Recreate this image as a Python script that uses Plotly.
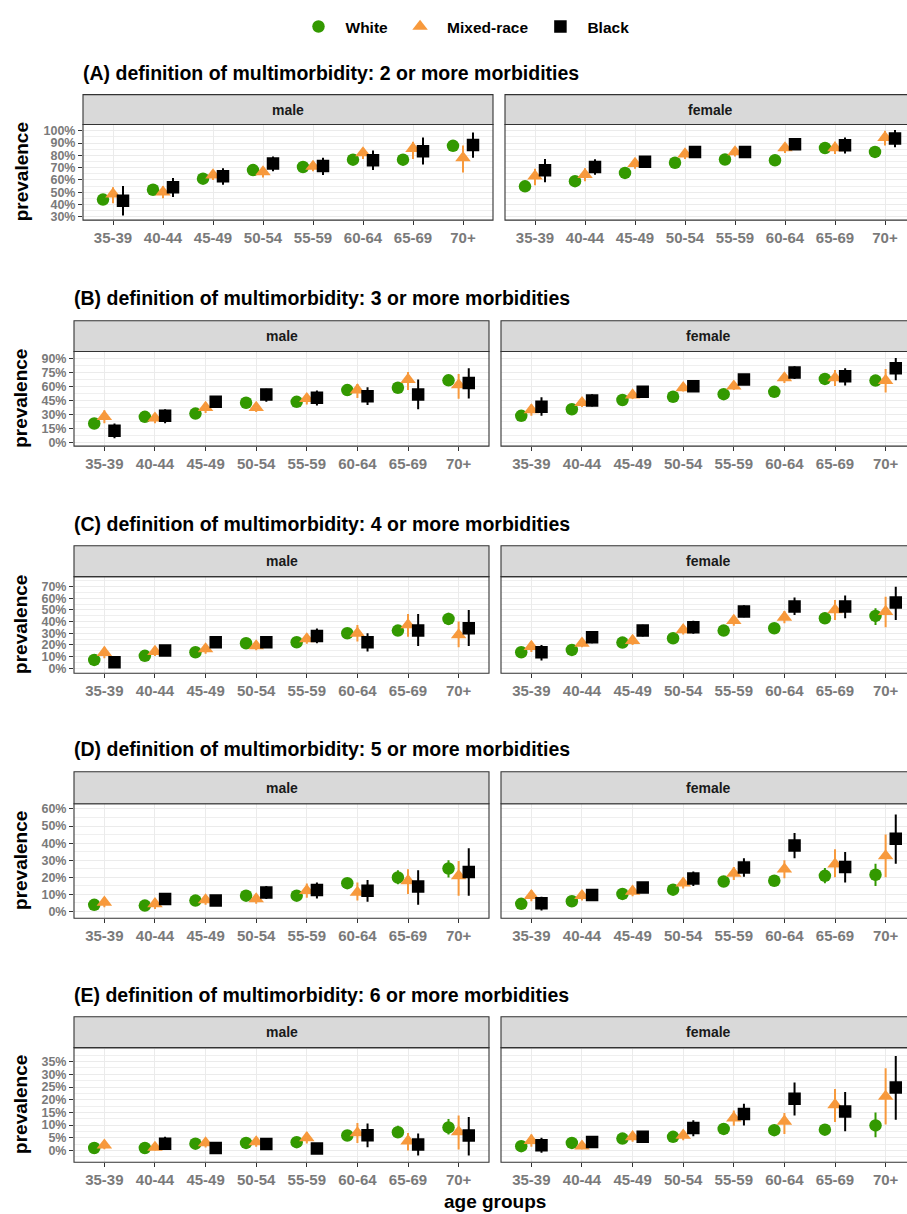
import plotly.graph_objects as go

AGE = ["35-39", "40-44", "45-49", "50-54", "55-59", "60-64", "65-69", "70+"]
RACES = ["White", "Mixed-race", "Black"]
DEFS = ["(A) definition of multimorbidity: 2 or more morbidities",
        "(B) definition of multimorbidity: 3 or more morbidities",
        "(C) definition of multimorbidity: 4 or more morbidities",
        "(D) definition of multimorbidity: 5 or more morbidities",
        "(E) definition of multimorbidity: 6 or more morbidities"]

# prevalence (%) estimates and 95% CI, one row per definition (A..E)
WHITE_MALE = [[44, 52, 61, 68, 70.5, 76.5, 76.5, 87.7],
              [20.8, 27.9, 31.4, 43, 44, 56.5, 59, 67],
              [7.1, 10.6, 13.7, 21.4, 22.3, 30, 32.3, 42.3],
              [3.9, 3.5, 6.4, 9.3, 9.3, 16.6, 19.9, 25.2],
              [1, 1, 2.7, 3, 3.3, 5.9, 7.2, 9.1]]
WHITE_MALE_LO = [[39.5, 50, 59, 66, 68.5, 74.5, 72, 85.5],
                 [18, 25.5, 29, 40.5, 41.5, 53.5, 55.5, 63],
                 [5.5, 9, 12, 19.5, 20.5, 27.5, 28.5, 37.1],
                 [3, 2.7, 5.3, 8, 8, 14, 16, 19.9],
                 [0.6, 0.6, 2.1, 2.4, 2.6, 4.8, 5, 6.3]]
WHITE_MALE_HI = [[48.5, 54, 63, 70, 72.5, 78.5, 80, 90],
                 [23.5, 30.5, 34, 45.5, 46.5, 59.5, 62.5, 71],
                 [8.7, 12.2, 15.5, 23.3, 24.2, 32.5, 36, 47.7],
                 [4.8, 4.3, 7.5, 10.6, 10.6, 19.5, 24.2, 30],
                 [1.4, 1.4, 3.3, 3.6, 4, 7, 9.8, 12.4]]

MIXED_MALE = [[48.5, 50, 64, 66.5, 71, 82, 85.5, 78],
              [28, 26.5, 37.8, 37.8, 47.3, 56.5, 67.8, 62],
              [13.4, 14.3, 16.5, 19.1, 25.1, 30, 37.1, 28.6],
              [5.4, 4.5, 6.8, 7.4, 12.2, 11.2, 18, 20.9],
              [2.1, 1.2, 3, 3.4, 5, 6.9, 3.7, 7.3]]
MIXED_MALE_LO = [[41, 45, 60, 62, 67, 77, 77, 66],
                 [21, 21, 32, 33, 41, 48, 56.5, 47.3],
                 [8.5, 10.5, 12.5, 15.5, 21, 23, 27, 18],
                 [2.5, 1.5, 4, 4.5, 8, 6.4, 10.3, 9.3],
                 [0.5, 0, 1.2, 1.5, 2.8, 3, 0, 0.4]]
MIXED_MALE_HI = [[54, 55, 68, 70.5, 75, 86, 91, 88],
                 [35, 32, 43, 43, 53, 63, 76, 73.8],
                 [18.5, 18.5, 20.5, 23, 29.5, 37, 46.6, 40],
                 [8.3, 7.5, 9.6, 10.3, 16.4, 17, 24.8, 29.6],
                 [3.7, 2.8, 4.8, 5.3, 7.2, 10.8, 6.9, 13.8]]

BLACK_MALE = [[43, 54, 63, 73.3, 71.4, 76, 83.4, 88.5],
              [13, 29, 44, 51.9, 48.4, 50, 51.9, 64.2],
              [5.1, 15.1, 22.3, 22.3, 27.7, 22.3, 32.3, 34.3],
              [None, 7.4, 6.4, 11.2, 12.6, 12.2, 14.7, 23.2],
              [None, 2.7, 1, 2.6, 0.8, 6, 2.4, 5.9]]
BLACK_MALE_LO = [[31, 46, 56, 67, 64, 68, 72.5, 78],
                 [5, 21, 37.8, 44, 40, 40.5, 36, 47.6],
                 [0.5, 10.6, 17.7, 17.5, 21.4, 14.3, 19.1, 19.1],
                 [None, 4, 3.7, 7.4, 7.7, 5.8, 4, 9.3],
                 [None, 0.7, 0, 0.7, 0, 1.3, -2, -2]]
BLACK_MALE_HI = [[55, 61.5, 69.5, 79, 78, 84, 94.5, 98.6],
                 [20.8, 36, 50, 58, 56, 59.6, 67.8, 80],
                 [8.6, 20, 27, 27.5, 34, 30, 46.6, 50],
                 [None, 10.6, 9, 15, 17, 18.4, 24.2, 37],
                 [None, 5.4, 2, 4.6, 1.6, 10.6, 6.7, 13.2]]

WHITE_FEMALE = [[54.8, 59, 65.7, 74, 76.6, 76, 86, 82.8],
                [29, 36, 45.9, 49.4, 52.2, 54.7, 68.5, 66.7],
                [13.7, 15.7, 22, 25.7, 32.3, 34.3, 42.9, 44.9],
                [4.5, 6, 10.3, 12.8, 17.6, 18, 20.9, 21.5],
                [1.7, 3, 4.7, 5.4, 8.5, 8, 8.2, 9.9]]
WHITE_FEMALE_LO = [[51, 56.5, 63.5, 72, 74.5, 74, 84, 78.5],
                   [26.5, 33.5, 43.5, 47, 49.5, 52, 65.5, 62],
                   [12, 14, 20, 23.8, 30, 32, 38, 37],
                   [3.7, 5.1, 9.2, 11.5, 16, 16.3, 16.5, 15],
                   [1.2, 2.4, 4, 4.6, 7.5, 7, 6.3, 5.2]]
WHITE_FEMALE_HI = [[58, 61.5, 68, 76, 78.5, 78, 88, 86.5],
                   [31.5, 38.5, 48.5, 52, 55, 57.5, 71.5, 71],
                   [15.4, 17.4, 24, 27.6, 34.6, 36.6, 47.7, 51.4],
                   [5.3, 6.9, 11.4, 14.1, 19.2, 19.7, 25.5, 28],
                   [2.2, 3.6, 5.4, 6.2, 9.5, 9, 10.2, 15]]

MIXED_FEMALE = [[63, 64.3, 73.3, 81, 82.8, 86, 86, 94.5],
                [35.3, 43, 51.2, 59, 60.7, 69.5, 69.5, 66.7],
                [18.6, 21.4, 23.7, 32.9, 40.9, 43.7, 50, 48.6],
                [9.3, 9.3, 11.8, 16.6, 22.3, 24.8, 27.7, 32.5],
                [3.9, 1.7, 5.4, 6, 12.8, 11.5, 18, 21.3]]
MIXED_FEMALE_LO = [[55.6, 59, 69, 77, 79, 82, 81, 88],
                   [29, 38.5, 47, 55, 56.5, 64, 61, 54],
                   [14, 18, 20, 29, 36.5, 38.5, 41.4, 35.1],
                   [6, 6.5, 9, 13.5, 18.5, 19.5, 20, 20],
                   [1.5, 0.5, 3.5, 4, 9.8, 6.5, 11.2, 10.2]]
MIXED_FEMALE_HI = [[69, 69.5, 77.5, 85, 86.5, 90, 91, 100],
                   [41, 48, 55.5, 63, 65, 75, 78, 79],
                   [23, 25, 27.5, 37, 45.5, 49, 58.6, 61.4],
                   [12.6, 12.2, 14.6, 19.7, 26.1, 30, 36.4, 45],
                   [6.3, 3, 7.3, 8, 15.8, 14.8, 24.2, 32.4]]

BLACK_FEMALE = [[67.8, 70.6, 74.7, 82.8, 82.8, 89, 88.3, 93.7],
                [38.8, 45.5, 54.7, 60.7, 67.8, 75.5, 71.3, 80],
                [13.7, 26.6, 32.3, 35.1, 48.6, 52.9, 52.9, 56.3],
                [4.8, 9.7, 14.1, 19.4, 25.7, 38.7, 26.1, 42.6],
                [2.1, 3.4, 5.4, 8.9, 14.4, 20.4, 15.4, 24.8]]
BLACK_FEMALE_LO = [[58, 64.3, 71, 80, 80, 84.5, 81.5, 86.5],
                   [29, 39, 50, 56, 63.5, 68.5, 61.4, 67],
                   [6.6, 21.4, 27.3, 29.5, 43.7, 45.7, 42.9, 41.4],
                   [0.6, 6.4, 11, 15, 20.3, 31.2, 17, 28],
                   [-0.9, 1.3, 3.5, 5.6, 9.9, 13.8, 7.6, 12.1]]
BLACK_FEMALE_HI = [[77, 76.8, 78.5, 85.5, 85.5, 93.5, 94.5, 100.6],
                   [49, 52, 59.5, 65.5, 72, 82, 80, 91],
                   [20, 32, 37.3, 40.8, 54, 60.6, 62.3, 70],
                   [8.7, 13, 17.2, 23.4, 31.2, 46, 34.8, 56.7],
                   [5, 5.5, 7.3, 11.9, 18.4, 26.8, 23, 37.2]]

# ---------------- styling / layout ----------------
W, H = 907, 1214
FONT = "Liberation Sans, Arial, sans-serif"
COLORS = {"White": "#339900", "Mixed-race": "#F7993C", "Black": "#000000"}
SYMBOLS = {"White": "circle", "Mixed-race": "triangle-up", "Black": "square"}
SIZES = {"White": 12.5, "Mixed-race": 13.5, "Black": 12.5}
OFFSET = {"White": -0.2, "Mixed-race": 0.0, "Black": 0.2}

SERIES = {
    ("White", "male"): (WHITE_MALE, WHITE_MALE_LO, WHITE_MALE_HI),
    ("Mixed-race", "male"): (MIXED_MALE, MIXED_MALE_LO, MIXED_MALE_HI),
    ("Black", "male"): (BLACK_MALE, BLACK_MALE_LO, BLACK_MALE_HI),
    ("White", "female"): (WHITE_FEMALE, WHITE_FEMALE_LO, WHITE_FEMALE_HI),
    ("Mixed-race", "female"): (MIXED_FEMALE, MIXED_FEMALE_LO, MIXED_FEMALE_HI),
    ("Black", "female"): (BLACK_FEMALE, BLACK_FEMALE_LO, BLACK_FEMALE_HI),
}

# pixel geometry per row: title_y, strip_top, panel_top, panel_bottom, male x, female x
ROWS = [
    dict(ty=72, st=94, pt=124, pb=220, mx=(83, 493), fx=(505, 915)),
    dict(ty=298, st=321, pt=352, pb=447, mx=(74, 489), fx=(501, 916)),
    dict(ty=525, st=547, pt=578, pb=675, mx=(74, 489), fx=(501, 916)),
    dict(ty=751, st=774, pt=806, pb=921, mx=(74, 489), fx=(501, 916)),
    dict(ty=998, st=1020, pt=1051, pb=1166, mx=(74, 489), fx=(501, 916)),
]
YRANGE = [[27.3, 105.1], [-3.5, 97.8], [-4.3, 78.6], [-3.9, 63.1], [-4.6, 40.5]]
YTICKS = [list(range(30, 101, 10)), list(range(0, 91, 15)), list(range(0, 71, 10)),
          list(range(0, 61, 10)), list(range(0, 36, 5))]
YMINOR = [5, 7.5, 5, 5, 2.5]


def px(x):
    return x / W


def py(y):
    return 1 - y / H


fig = go.Figure()
layout = dict(width=W, height=H, margin=dict(l=0, r=0, t=0, b=0),
              paper_bgcolor="white", plot_bgcolor="white",
              font=dict(family=FONT), showlegend=True)
shapes, annotations = [], []

ax = 0
for r, row in enumerate(ROWS):
    for s, sex in enumerate(["male", "female"]):
        ax += 1
        xa = "x" if ax == 1 else f"x{ax}"
        ya = "y" if ax == 1 else f"y{ax}"
        x0, x1 = row["mx"] if sex == "male" else row["fx"]
        xr_hi = -0.6 + 8.2 * (min(x1, W) - x0) / (x1 - x0)
        dom_x = [px(x0), px(min(x1, W))]
        dom_y = [py(row["pb"]), py(row["pt"])]
        layout["xaxis" if ax == 1 else f"xaxis{ax}"] = dict(
            domain=dom_x, range=[-0.6, xr_hi], anchor=ya,
            tickmode="array", tickvals=list(range(len(AGE))), ticktext=AGE,
            showgrid=True, gridcolor="#EBEBEB", gridwidth=1.1, zeroline=False,
            ticks="outside", ticklen=4, tickcolor="#333333", tickwidth=1,
            ticklabelstandoff=0,
            tickfont=dict(family=FONT, size=15, color="#7A7A7A", weight="bold"),
            showline=False, fixedrange=True)
        layout["yaxis" if ax == 1 else f"yaxis{ax}"] = dict(
            domain=dom_y, range=YRANGE[r], anchor=xa,
            tickmode="array", tickvals=YTICKS[r],
            ticktext=[f"{v}%" for v in YTICKS[r]],
            showticklabels=(sex == "male"),
            ticks="outside" if sex == "male" else "", ticklen=4,
            tickcolor="#333333", tickwidth=1,
            showgrid=True, gridcolor="#EBEBEB", gridwidth=1.1, zeroline=False,
            minor=dict(dtick=YMINOR[r], tick0=0, showgrid=True,
                       gridcolor="#EFEFEF", gridwidth=0.7),
            tickfont=dict(family=FONT, size=12.5, color="#7A7A7A", weight="bold"),
            showline=False, fixedrange=True)

        for race in RACES:
            est, lo, hi = (a[r] for a in SERIES[(race, sex)])
            xs = [i + OFFSET[race] for i in range(len(AGE))]
            plus = [(h - e) if e is not None else 0 for e, h in zip(est, hi)]
            minus = [(e - l) if e is not None else 0 for e, l in zip(est, lo)]
            fig.add_trace(go.Scatter(
                x=xs, y=est, xaxis=xa, yaxis=ya, mode="markers", name=race,
                legendgroup=race, showlegend=(ax == 1),
                marker=dict(symbol=SYMBOLS[race], size=SIZES[race],
                            color=COLORS[race], line=dict(width=0)),
                error_y=dict(type="data", symmetric=False, array=plus,
                             arrayminus=minus, width=0, thickness=2,
                             color=COLORS[race]),
                cliponaxis=True))

        # panel border
        shapes.append(dict(type="rect", xref="paper", yref="paper",
                           x0=px(x0), x1=px(x1), y0=py(row["pb"]), y1=py(row["pt"]),
                           line=dict(color="#333333", width=1.1),
                           fillcolor="rgba(0,0,0,0)", layer="above"))
        # strip
        shapes.append(dict(type="rect", xref="paper", yref="paper",
                           x0=px(x0), x1=px(x1), y0=py(row["pt"]), y1=py(row["st"]),
                           line=dict(color="#333333", width=1.1),
                           fillcolor="#D9D9D9", layer="above"))
        annotations.append(dict(xref="paper", yref="paper",
                                x=px((x0 + x1) / 2), y=py((row["st"] + row["pt"]) / 2),
                                text=sex, showarrow=False,
                                font=dict(family=FONT, size=14, color="#1A1A1A",
                                          weight="bold"),
                                xanchor="center", yanchor="middle"))

    # row title
    annotations.append(dict(xref="paper", yref="paper", x=px(row["mx"][0] - 2), y=py(row["ty"]),
                            text=DEFS[r], showarrow=False, xanchor="left", yanchor="middle",
                            font=dict(family=FONT, size=19.5, color="#000000",
                                      weight="bold")))
    # y title
    annotations.append(dict(xref="paper", yref="paper", x=px(21), y=py((row["pt"] + row["pb"]) / 2),
                            text="prevalence", showarrow=False, textangle=-90,
                            xanchor="center", yanchor="middle",
                            font=dict(family=FONT, size=19, color="#000000",
                                      weight="bold")))

annotations.append(dict(xref="paper", yref="paper", x=px(495), y=py(1205),
                        text="age groups", showarrow=False, xanchor="center",
                        yanchor="middle",
                        font=dict(family=FONT, size=19, color="#000000", weight="bold")))

layout["shapes"] = shapes
layout["annotations"] = annotations
layout["legend"] = dict(orientation="h", x=px(463), xanchor="center", y=py(26),
                        yanchor="middle", bgcolor="rgba(0,0,0,0)",
                        font=dict(family=FONT, size=15.5, color="#000000", weight="bold"),
                        itemwidth=44, traceorder="normal")
fig.update_layout(**layout)
fig.write_html("out.html", config={"displayModeBar": False},
               post_script="document.body.style.margin='0px';document.body.style.overflow='hidden';")
